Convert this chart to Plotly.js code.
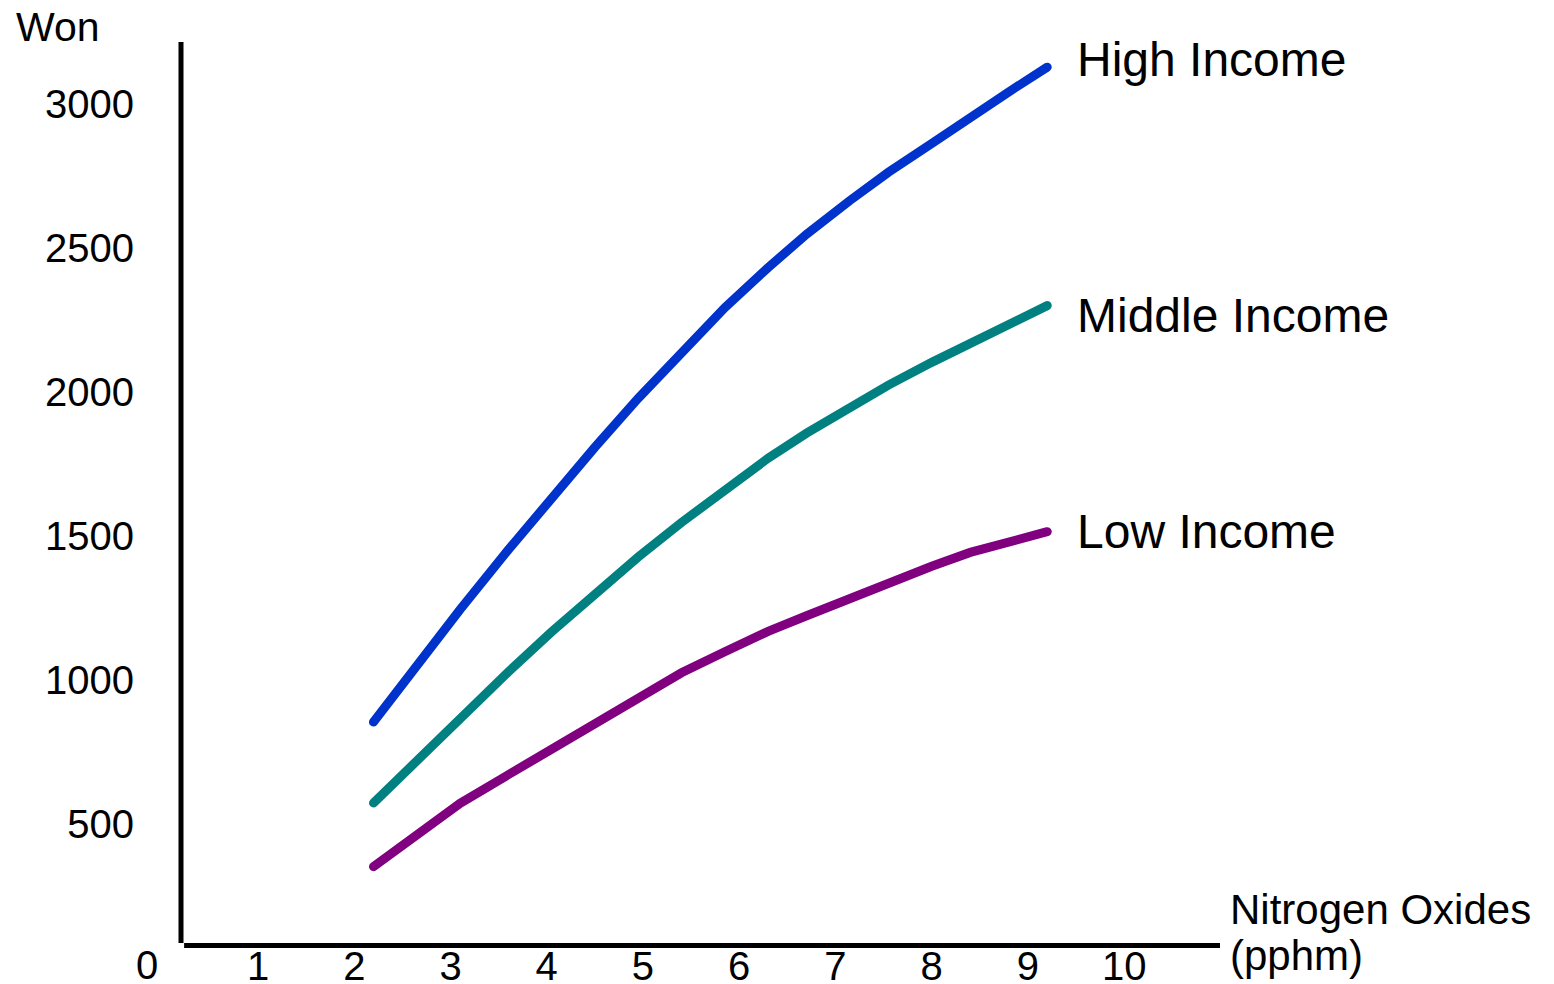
<!DOCTYPE html>
<html>
<head>
<meta charset="utf-8">
<script src="https://cdn.plot.ly/plotly-3.0.1.min.js"></script>
<style>
  html, body { margin: 0; padding: 0; background: #ffffff; }
  #chart { width: 1554px; height: 984px; }
  .scatterlayer .js-line { stroke-linecap: round; }
</style>
</head>
<body>
<div id="chart"></div>
<script>
// Nitrogen oxide concentration (pphm)
const nox = [2.2, 2.65, 3.1, 3.6, 4.05, 4.5, 4.95, 5.4, 5.85, 6.3, 6.7, 7.15, 7.55, 8.0, 8.4, 8.8, 9.2];

// Willingness to pay (Won) by income group
const highIncome   = [854, 1051, 1245, 1452, 1632, 1808, 1978, 2140, 2293, 2432, 2548, 2665, 2763, 2863, 2955, 3042, 3128];
const middleIncome = [573, 722, 869, 1028, 1167, 1300, 1427, 1547, 1662, 1770, 1857, 1948, 2024, 2103, 2170, 2236, 2300];
const lowIncome    = [352, 462, 572, 671, 760, 849, 937, 1025, 1098, 1169, 1223, 1283, 1339, 1395, 1443, 1479, 1515];

const seriesNames = ["High Income", "Middle Income", "Low Income"];

// Tick labels
const xTickVals = [1, 2, 3, 4, 5, 6, 7, 8, 9, 10];
const xTickText = ["1", "2", "3", "4", "5", "6", "7", "8", "9", "10"];
const yTickVals = [500, 1000, 1500, 2000, 2500, 3000];
const yTickText = ["500", "1000", "1500", "2000", "2500", "3000"];
const originLabel = "0";
const yUnit = "Won";
const xTitleLines = ["Nitrogen Oxides", "(pphm)"];

const FONT = "Liberation Sans, Arial, Helvetica, sans-serif";
const colors = ["#0033cc", "#008080", "#800080"];
const seriesValues = [highIncome, middleIncome, lowIncome];

const traces = seriesValues.map((vals, i) => ({
  type: "scatter",
  mode: "lines",
  x: nox,
  y: vals,
  name: seriesNames[i],
  line: { color: colors[i], width: 9 },
  hoverinfo: "skip"
}));

// Series labels sit just right of each line's last point
const labelShift = [8, -10, 0];
const labelAnnotations = seriesValues.map((vals, i) => ({
  xref: "x", yref: "y",
  x: nox[nox.length - 1], xshift: 28,
  y: vals[vals.length - 1],
  yshift: labelShift[i],
  xanchor: "left", yanchor: "middle",
  text: seriesNames[i],
  showarrow: false,
  font: { family: FONT, size: 48, color: "#000000" }
}));

const layout = {
  width: 1554,
  height: 984,
  margin: { l: 181, r: 334, t: 42, b: 45, pad: 0 },
  paper_bgcolor: "#ffffff",
  plot_bgcolor: "#ffffff",
  showlegend: false,
  font: { family: FONT, size: 40, color: "#000000" },
  xaxis: {
    range: [0.2, 10.995],
    tickmode: "array",
    tickvals: xTickVals,
    ticktext: xTickText,
    ticks: "",
    showgrid: false,
    zeroline: false,
    showline: false,
    tickfont: { family: FONT, size: 40, color: "#000000" },
    ticklabelstandoff: 0,
    fixedrange: true
  },
  yaxis: {
    range: [100.7, 3215.3],
    tickmode: "array",
    tickvals: yTickVals,
    ticktext: yTickText,
    ticks: "",
    showgrid: false,
    zeroline: false,
    showline: false,
    tickfont: { family: FONT, size: 40, color: "#000000" },
    ticklabelstandoff: 46,
    fixedrange: true
  },
  shapes: [
    // vertical axis
    { type: "line", xref: "paper", yref: "paper", x0: 0, x1: 0, y0: -0.0045, y1: 1,
      line: { color: "#000000", width: 5 } },
    // horizontal axis
    { type: "line", xref: "paper", yref: "paper", x0: 0.003, x1: 1, y0: -0.00725, y1: -0.00725,
      line: { color: "#000000", width: 5 } }
  ],
  annotations: [
    { xref: "paper", yref: "paper", x: -0.1605, y: 1.0167, xanchor: "left", yanchor: "middle",
      text: yUnit, showarrow: false, font: { family: FONT, size: 41, color: "#000000" } },
    { xref: "paper", yref: "paper", x: -0.0327, y: -0.029, xanchor: "center", yanchor: "middle",
      text: originLabel, showarrow: false, font: { family: FONT, size: 40, color: "#000000" } },
    { xref: "paper", yref: "paper", x: 1.0077, y: 0.0326, xanchor: "left", yanchor: "middle",
      text: xTitleLines[0], showarrow: false, font: { family: FONT, size: 42, color: "#000000" } },
    { xref: "paper", yref: "paper", x: 1.0077, y: -0.0187, xanchor: "left", yanchor: "middle",
      text: xTitleLines[1], showarrow: false, font: { family: FONT, size: 42, color: "#000000" } }
  ].concat(labelAnnotations)
};

Plotly.newPlot("chart", traces, layout, { displayModeBar: false, staticPlot: true });
</script>
</body>
</html>
